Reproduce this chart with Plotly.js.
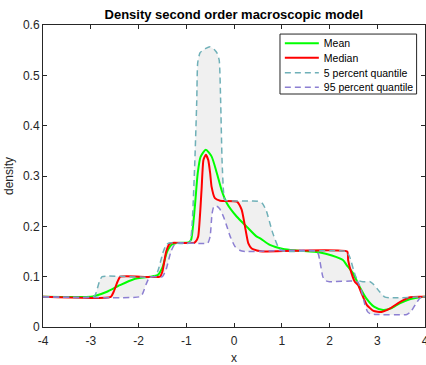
<!DOCTYPE html>
<html>
<head>
<meta charset="utf-8">
<script src="https://cdn.plot.ly/plotly-3.0.1.min.js"></script>
<style>html,body{margin:0;padding:0;background:#fff;}#chart{width:426px;height:365px;}</style>
</head>
<body>
<div id="chart"></div>
<script>
// Mean
const meanX = [-4, -3.0, -2.9, -2.66, -2.39, -2.1, -1.76, -1.6, -1.5, -1.4, -1.3, -1.2, -0.95, -0.9, -0.82, -0.76, -0.7, -0.59, -0.47, -0.36, -0.26, -0.15, 0.06, 0.27, 0.47, 0.55, 0.75, 1.03, 1.31, 1.8, 2.05, 2.28, 2.36, 2.49, 2.63, 2.77, 2.94, 3.12, 3.29, 3.47, 3.68, 3.9, 4];
const meanY = [0.06, 0.06, 0.062, 0.07, 0.083, 0.095, 0.1, 0.103, 0.118, 0.15, 0.164, 0.167, 0.168, 0.173, 0.239, 0.305, 0.338, 0.352, 0.339, 0.306, 0.272, 0.246, 0.219, 0.199, 0.18, 0.176, 0.163, 0.155, 0.152, 0.148, 0.142, 0.133, 0.123, 0.107, 0.08, 0.057, 0.04, 0.034, 0.037, 0.047, 0.055, 0.059, 0.06];
// Median
const medX = [-4, -2.58, -2.52, -2.44, -2.38, -1.55, -1.5, -1.42, -1.35, -1.3, -0.84, -0.8, -0.75, -0.68, -0.64, -0.59, -0.54, -0.5, -0.47, -0.4, -0.29, 0.06, 0.16, 0.23, 0.3, 0.37, 0.48, 0.6, 2.37, 2.39, 2.46, 2.53, 2.6, 2.67, 2.78, 2.92, 3.09, 3.27, 3.48, 3.69, 3.9, 4];
const medY = [0.06, 0.06, 0.07, 0.09, 0.1, 0.1, 0.11, 0.15, 0.165, 0.167, 0.167, 0.17, 0.18, 0.272, 0.332, 0.342, 0.332, 0.306, 0.279, 0.256, 0.251, 0.249, 0.233, 0.2, 0.166, 0.156, 0.152, 0.15, 0.15, 0.133, 0.107, 0.09, 0.083, 0.067, 0.044, 0.032, 0.03, 0.037, 0.05, 0.059, 0.06, 0.06];
// 5 percent quantile
const q05X = [-4, -2.95, -2.9, -2.82, -2.76, -1.68, -1.6, -1.48, -1.42, -1.36, -0.93, -0.88, -0.82, -0.78, -0.76, -0.71, -0.6, -0.5, -0.4, -0.36, -0.31, -0.28, -0.25, -0.22, -0.19, 0.5, 0.6, 0.68, 0.8, 0.92, 1.0, 1.1, 2.35, 2.42, 2.55, 2.62, 2.7, 2.85, 2.92, 3.05, 3.15, 3.25, 4];
const q05Y = [0.06, 0.06, 0.065, 0.09, 0.1, 0.1, 0.11, 0.15, 0.163, 0.167, 0.167, 0.2, 0.33, 0.45, 0.525, 0.545, 0.553, 0.557, 0.55, 0.545, 0.53, 0.45, 0.33, 0.27, 0.252, 0.25, 0.245, 0.23, 0.19, 0.16, 0.152, 0.15, 0.15, 0.14, 0.1, 0.092, 0.09, 0.09, 0.085, 0.07, 0.06, 0.058, 0.06];
// 95 percent quantile
const q95X = [-4, -1.98, -1.92, -1.84, -1.78, -1.72, -1.5, -1.42, -1.32, -1.25, -1.17, -0.55, -0.5, -0.46, -0.42, -0.36, -0.3, -0.22, -0.15, -0.08, 0.02, 0.13, 0.25, 1.74, 1.8, 1.86, 1.92, 2.0, 2.58, 2.66, 2.74, 2.8, 2.86, 2.95, 3.62, 3.7, 3.8, 3.9, 4];
const q95Y = [0.06, 0.06, 0.065, 0.085, 0.097, 0.1, 0.1, 0.115, 0.15, 0.163, 0.167, 0.167, 0.18, 0.225, 0.24, 0.24, 0.235, 0.219, 0.2, 0.18, 0.16, 0.152, 0.15, 0.15, 0.13, 0.1, 0.092, 0.09, 0.09, 0.075, 0.045, 0.03, 0.026, 0.025, 0.025, 0.03, 0.045, 0.058, 0.06];

const seriesNames = ['Mean', 'Median', '5 percent quantile', '95 percent quantile'];
const xTicks = [-4, -3, -2, -1, 0, 1, 2, 3, 4];
const xTickText = ['-4', '-3', '-2', '-1', '0', '1', '2', '3', '4'];
const yTicks = [0, 0.1, 0.2, 0.3, 0.4, 0.5, 0.6];
const yTickText = ['0', '0.1', '0.2', '0.3', '0.4', '0.5', '0.6'];

const FONT = 'Liberation Sans, Arial, Helvetica, sans-serif';
const INK = '#262626';

const traces = [
  {x: q95X, y: q95Y, mode: 'lines', line: {width: 0, color: 'rgba(0,0,0,0)', shape: 'spline', smoothing: 0.5}, showlegend: false, hoverinfo: 'skip'},
  {x: q05X, y: q05Y, mode: 'lines', fill: 'tonexty', fillcolor: '#f0f0f0', line: {width: 0, color: 'rgba(0,0,0,0)', shape: 'spline', smoothing: 0.5}, showlegend: false, hoverinfo: 'skip'},
  {x: meanX, y: meanY, mode: 'lines', name: seriesNames[0], legend: 'legend', line: {color: '#00ff00', width: 2, shape: 'spline', smoothing: 0.6}},
  {x: medX, y: medY, mode: 'lines', name: seriesNames[1], legend: 'legend2', line: {color: '#ff0000', width: 2, shape: 'spline', smoothing: 0.5}},
  {x: q05X, y: q05Y, mode: 'lines', name: seriesNames[2], legend: 'legend3', line: {color: '#6fb0b8', width: 1.5, dash: '6px,4px', shape: 'spline', smoothing: 0.5}},
  {x: q95X, y: q95Y, mode: 'lines', name: seriesNames[3], legend: 'legend4', line: {color: '#8c7fd2', width: 1.5, dash: '6px,4px', shape: 'spline', smoothing: 0.5}}
];

const axisCommon = {
  showline: true, linecolor: INK, linewidth: 1, mirror: 'ticks',
  ticks: 'inside', ticklen: 4, tickcolor: INK, tickwidth: 1,
  showgrid: false, zeroline: false, ticklabeloverflow: 'allow',
  tickfont: {family: FONT, size: 12, color: INK}
};

function leg(yc) {
  return {x: 0.62, y: yc, xanchor: 'left', yanchor: 'middle', bgcolor: 'rgba(0,0,0,0)', borderwidth: 0,
    font: {family: FONT, size: 10.5, color: '#000'}, itemwidth: 34};
}

const layout = {
  width: 426, height: 365,
  margin: {l: 43, r: 1, t: 25, b: 38},
  paper_bgcolor: '#ffffff', plot_bgcolor: '#ffffff',
  font: {family: FONT, color: INK},
  title: {text: '<b>Density second order macroscopic model</b>', font: {family: FONT, size: 13, color: '#000'}, x: 0.549, xanchor: 'center', y: 0.960, yanchor: 'middle'},
  xaxis: Object.assign({}, axisCommon, {range: [-4, 4], tickvals: xTicks, ticktext: xTickText, ticklabelstandoff: 3,
    title: {text: 'x', font: {family: FONT, size: 12, color: INK}, standoff: 6}}),
  yaxis: Object.assign({}, axisCommon, {range: [0, 0.6], tickvals: yTicks, ticktext: yTickText,
    title: {text: 'density', font: {family: FONT, size: 12, color: INK}, standoff: 6}}),
  shapes: [{type: 'rect', xref: 'paper', yref: 'paper', x0: 0.6204, x1: 0.978, y0: 0.7715, y1: 0.970,
    layer: 'above', fillcolor: '#ffffff', line: {color: INK, width: 1}}],
  legend: leg(0.9394),
  legend2: leg(0.8917),
  legend3: leg(0.8421),
  legend4: leg(0.7937),
  showlegend: true
};

Plotly.newPlot('chart', traces, layout, {staticPlot: true, displayModeBar: false});
</script>
</body>
</html>
